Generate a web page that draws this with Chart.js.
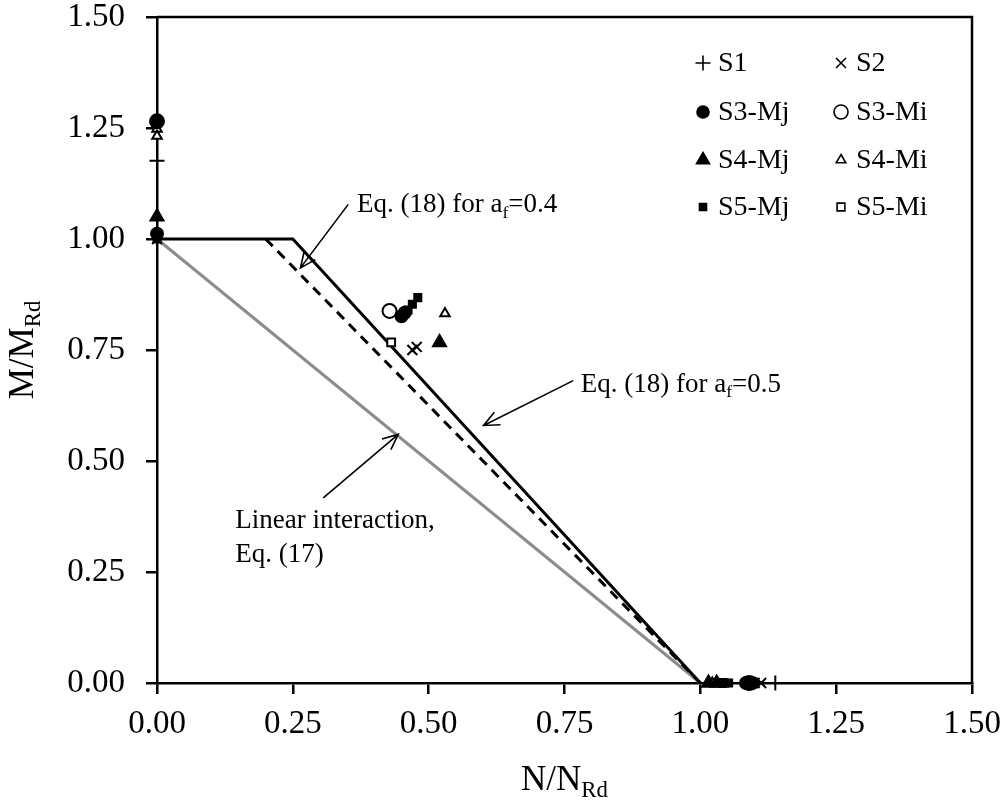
<!DOCTYPE html>
<html>
<head>
<meta charset="utf-8">
<script src="https://cdn.jsdelivr.net/npm/chart.js@4/dist/chart.umd.min.js"></script>
<style>
  body { margin: 0; background: #fff; }
  #wrap { width: 1004px; height: 810px; position: relative; }
</style>
</head>
<body>
<div id="wrap"><canvas id="interactionChart"></canvas></div>
<script>
// tick values (both axes)
const xTicks = [0, 0.25, 0.5, 0.75, 1.0, 1.25, 1.5];
const yTicks = [0, 0.25, 0.5, 0.75, 1.0, 1.25, 1.5];

// test results, N/NRd (x) and M/MRd (y)
const s1X = [0, 1.138];
const s1Y = [1.176, 0];
const s2X = [0, 0.470, 0.478, 1.100, 1.112];
const s2Y = [1.000, 0.750, 0.757, 0, 0];
const s3MjX = [0, 0, 0.450, 0.456, 1.084, 1.096];
const s3MjY = [1.265, 1.012, 0.826, 0.834, 0, 0];
const s3MiX = [0, 0.428, 1.090];
const s3MiY = [1.265, 0.838, 0];
const s4MjX = [0, 0.520, 1.015, 1.030];
const s4MjY = [1.050, 0.767, 0, 0];
const s4MiX = [0, 0, 0.530, 1.022];
const s4MiY = [1.248, 1.232, 0.832, 0];
const s5MjX = [0, 0.462, 0.470, 0.480, 1.045, 1.052];
const s5MjY = [1.000, 0.840, 0.853, 0.868, 0, 0];
const s5MiX = [0, 0.431, 1.040];
const s5MiY = [1.265, 0.767, 0];

// design curves
const eq18a05X = [0, 0.25, 1];
const eq18a05Y = [1, 1, 0];
const eq18a04X = [0.2, 1];
const eq18a04Y = [1, 0];
const linearX = [0, 1];
const linearY = [1, 0];

const FONT = "'Liberation Serif', 'Times New Roman', serif";

function pts(xs, ys) {
  return xs.map((x, i) => ({ x: x, y: ys[i] }));
}

function markers(label, xs, ys, style, radius, filled) {
  return {
    label: label,
    data: pts(xs, ys),
    showLine: false,
    pointStyle: style,
    pointRadius: radius,
    pointHoverRadius: radius,
    pointBorderWidth: 2,
    pointBackgroundColor: filled ? '#000' : '#fff',
    pointBorderColor: '#000'
  };
}

function curve(label, xs, ys, color, dash) {
  return {
    label: label,
    data: pts(xs, ys),
    showLine: true,
    borderColor: color,
    borderWidth: 3,
    borderDash: dash,
    pointRadius: 0,
    fill: false
  };
}

const datasets = [
  markers('S1', s1X, s1Y, 'cross', 7.5, true),
  markers('S2', s2X, s2Y, 'crossRot', 7, true),
  markers('S3-Mj', s3MjX, s3MjY, 'circle', 6, true),
  markers('S3-Mi', s3MiX, s3MiY, 'circle', 7, false),
  markers('S4-Mj', s4MjX, s4MjY, 'triangle', 7.5, true),
  markers('S4-Mi', s4MiX, s4MiY, 'triangle', 5.5, false),
  markers('S5-Mj', s5MjX, s5MjY, 'rect', 5, true),
  markers('S5-Mi', s5MiX, s5MiY, 'rect', 5.5, false),
  curve('Eq. (18) af=0.5', eq18a05X, eq18a05Y, '#000', []),
  curve('Eq. (18) af=0.4', eq18a04X, eq18a04Y, '#000', [10, 7]),
  curve('Eq. (17)', linearX, linearY, '#8c8c8c', [])
];

// text with subscripts: parts = [[text, isSub], ...]
function richWidth(ctx, parts, size) {
  let w = 0;
  parts.forEach(p => {
    ctx.font = (p[1] ? size * 0.65 : size) + 'px ' + FONT;
    w += ctx.measureText(p[0]).width;
  });
  return w;
}
function drawRich(ctx, parts, x, y, size) {
  ctx.textBaseline = 'alphabetic';
  ctx.textAlign = 'left';
  parts.forEach(p => {
    ctx.font = (p[1] ? size * 0.65 : size) + 'px ' + FONT;
    ctx.fillText(p[0], x, p[1] ? y + size * 0.2 : y);
    x += ctx.measureText(p[0]).width;
  });
}

function arrow(ctx, x1, y1, x2, y2) {
  const a = Math.atan2(y2 - y1, x2 - x1);
  const h = 17, spread = 0.42;
  ctx.beginPath();
  ctx.moveTo(x1, y1);
  ctx.lineTo(x2, y2);
  ctx.moveTo(x2 - h * Math.cos(a - spread), y2 - h * Math.sin(a - spread));
  ctx.lineTo(x2, y2);
  ctx.lineTo(x2 - h * Math.cos(a + spread), y2 - h * Math.sin(a + spread));
  ctx.stroke();
}

// annotations, anchored in data units
const notes = [
  { text: [['Eq. (18) for a', false], ['f', true], ['=0.4', false]], at: [0.368, 1.06], tail: [0.352, 1.078], tip: [0.264, 0.935] },
  { text: [['Eq. (18) for a', false], ['f', true], ['=0.5', false]], at: [0.780, 0.656], tail: [0.766, 0.681], tip: [0.601, 0.580] },
  { text: [['Linear interaction,', false]], at: [0.144, 0.350], tail: [0.306, 0.417], tip: [0.444, 0.560] },
  { text: [['Eq. (17)', false]], at: [0.144, 0.272] }
];

const decorPlugin = {
  id: 'decor',
  beforeDatasetsDraw(chart) {
    const c = chart.ctx, a = chart.chartArea;
    c.save();
    c.strokeStyle = '#000';
    c.lineWidth = 2.5;
    c.beginPath();
    c.moveTo(a.left, a.top);
    c.lineTo(a.right, a.top);
    c.lineTo(a.right, a.bottom);
    c.stroke();
    c.restore();
  },
  afterDraw(chart) {
    const c = chart.ctx, a = chart.chartArea;
    const xs = chart.scales.x, ys = chart.scales.y;
    c.save();
    c.fillStyle = '#000';
    c.strokeStyle = '#000';
    c.lineWidth = 1.6;

    notes.forEach(n => {
      drawRich(c, n.text, xs.getPixelForValue(n.at[0]), ys.getPixelForValue(n.at[1]), 27);
      if (n.tip) {
        arrow(c, xs.getPixelForValue(n.tail[0]), ys.getPixelForValue(n.tail[1]),
              xs.getPixelForValue(n.tip[0]), ys.getPixelForValue(n.tip[1]));
      }
    });

    // axis titles
    const xt = [['N/N', false], ['Rd', true]];
    const yt = [['M/M', false], ['Rd', true]];
    const cx = (a.left + a.right) / 2, cy = (a.top + a.bottom) / 2;
    drawRich(c, xt, cx - richWidth(c, xt, 35) / 2, 790, 35);
    c.save();
    c.translate(33, cy);
    c.rotate(-Math.PI / 2);
    drawRich(c, yt, -richWidth(c, yt, 35) / 2, 0, 35);
    c.restore();

    // legend, 2 columns x 4 rows
    const cols = [703, 841];
    const rowY = [63, 112, 160, 207];
    chart.data.datasets.slice(0, 8).forEach((ds, i) => {
      const mx = cols[i % 2], my = rowY[Math.floor(i / 2)];
      c.fillStyle = ds.pointBackgroundColor;
      c.strokeStyle = '#000';
      Chart.helpers.drawPoint(c, { pointStyle: ds.pointStyle, radius: ds.pointRadius, rotation: 0, borderWidth: 2 }, mx, my);
      c.fillStyle = '#000';
      c.font = '28px ' + FONT;
      c.textBaseline = 'middle';
      c.textAlign = 'left';
      c.fillText(ds.label, mx + 15, my + 1);
    });
    c.restore();
  }
};

function axis(ticks, fit, pad) {
  return {
    type: 'linear',
    min: 0,
    max: 1.5,
    afterBuildTicks: s => { s.ticks = ticks.map(v => ({ value: v })); },
    afterFit: fit,
    grid: { drawOnChartArea: false, drawTicks: true, tickLength: 11, color: '#000', lineWidth: 2.5 },
    border: { color: '#000', width: 2.5 },
    ticks: {
      color: '#000',
      font: { family: FONT, size: 33 },
      padding: pad,
      maxRotation: 0,
      callback: v => Number(v).toFixed(2)
    }
  };
}

const config = {
  type: 'scatter',
  data: { datasets: datasets },
  options: {
    responsive: true,
    maintainAspectRatio: false,
    animation: false,
    clip: false,
    layout: { padding: 0 },
    scales: {
      x: axis(xTicks, s => { s.height = 127; s.paddingLeft = 0; s.paddingRight = 32; }, 11),
      y: axis(yTicks, s => { s.width = 157; s.paddingTop = 17; s.paddingBottom = 0; }, 21)
    },
    plugins: {
      legend: { display: false },
      tooltip: { enabled: false }
    }
  },
  plugins: [decorPlugin]
};

const interactionChart = new Chart(
  document.getElementById('interactionChart'),
  config
);
</script>
</body>
</html>
